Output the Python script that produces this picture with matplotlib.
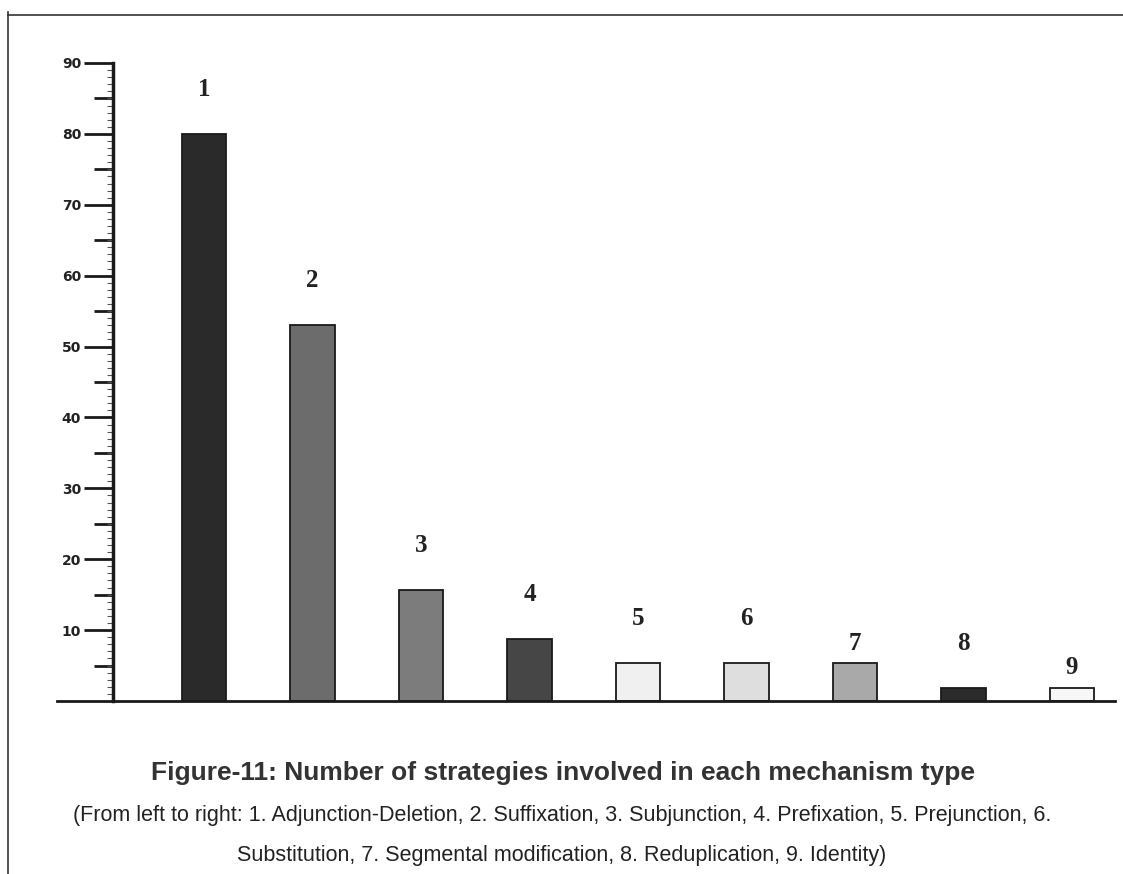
import matplotlib.pyplot as plt
from matplotlib.lines import Line2D
from matplotlib.ticker import MultipleLocator

# data
mechanisms = ['1', '2', '3', '4', '5', '6', '7', '8', '9']
strategies = [80, 53, 15.6, 8.7, 5.3, 5.3, 5.3, 1.8, 1.8]

bar_colors = ['#2a2a2a', '#6c6c6c', '#7c7c7c', '#464646', '#f0f0f0',
              '#dedede', '#a9a9a9', '#2b2b2b', '#f7f7f7']
label_gap = [32, 32, 32, 32, 32, 32, 14, 32, 15]  # points above bar top

title = 'Figure-11: Number of strategies involved in each mechanism type'
caption1 = ('(From left to right: 1. Adjunction-Deletion, 2. Suffixation, 3. Subjunction, '
            '4. Prefixation, 5. Prejunction, 6.')
caption2 = 'Substitution, 7. Segmental modification, 8. Reduplication, 9. Identity)'

W, H = 1123, 874
fig = plt.figure(figsize=(W / 100, H / 100), dpi=100)
ax = fig.add_axes([57 / W, 1 - 701 / H, (1115 - 57) / W, (701 - 63) / H])

x = list(range(len(mechanisms)))
ax.bar(x, strategies, width=0.41, color=bar_colors, edgecolor='#1a1a1a',
       linewidth=1.3, zorder=3)

for i, v in enumerate(strategies):
    ax.annotate(mechanisms[i], (x[i], v), xytext=(0, label_gap[i]),
                textcoords='offset points', ha='center', va='center',
                fontsize=18, fontweight='bold', family='Liberation Serif',
                color='#222222')

ax.set_xlim(-1.355, 8.396)
ax.set_ylim(0, 90)

for s in ['top', 'right']:
    ax.spines[s].set_visible(False)
ax.spines['left'].set_position(('axes', (113 - 57) / (1115 - 57)))
ax.spines['left'].set_bounds(0, 90)
ax.spines['left'].set_linewidth(2.5)
ax.spines['left'].set_color('#1a1a1a')
ax.spines['bottom'].set_linewidth(2)
ax.spines['bottom'].set_color('#1a1a1a')
ax.spines['bottom'].set_zorder(4)

ax.set_xticks([])
ax.yaxis.set_major_locator(MultipleLocator(10))
ax.yaxis.set_minor_locator(MultipleLocator(1))
ax.set_yticks(range(10, 100, 10))
ax.tick_params(axis='y', which='major', length=21, width=2, color='#1a1a1a',
               pad=2, labelsize=10)
ax.tick_params(axis='y', which='minor', length=4, width=0.8, color='#555555')
for t in ax.get_yticklabels():
    t.set_fontweight('bold')
    t.set_family('DejaVu Sans')
    t.set_color('#222222')

# medium ticks at the fives
sec = ax.secondary_yaxis((113 - 57) / (1115 - 57))
sec.set_yticks(range(5, 90, 10))
sec.tick_params(axis='y', which='major', length=14, width=2, color='#1a1a1a',
                labelleft=False)
sec.yaxis.set_minor_locator(MultipleLocator(100))
sec.spines['left'].set_visible(False)

# page frame
fig.add_artist(Line2D([8 / W, 8 / W], [0, 1 - 12 / H], color='#333333', lw=1.2))
fig.add_artist(Line2D([8 / W, 1], [1 - 15 / H, 1 - 15 / H], color='#333333', lw=1.2))

fig.text(563 / W, 1 - 773 / H, title, ha='center', va='center',
         fontsize=19, fontweight='bold', family='Liberation Sans', color='#333333')
fig.text(562 / W, 1 - 815 / H, caption1, ha='center', va='center',
         fontsize=15.5, family='Liberation Sans', color='#222222')
fig.text(562 / W, 1 - 855 / H, caption2, ha='center', va='center',
         fontsize=15.5, family='Liberation Sans', color='#222222')

fig.savefig('out.png', dpi=100)
